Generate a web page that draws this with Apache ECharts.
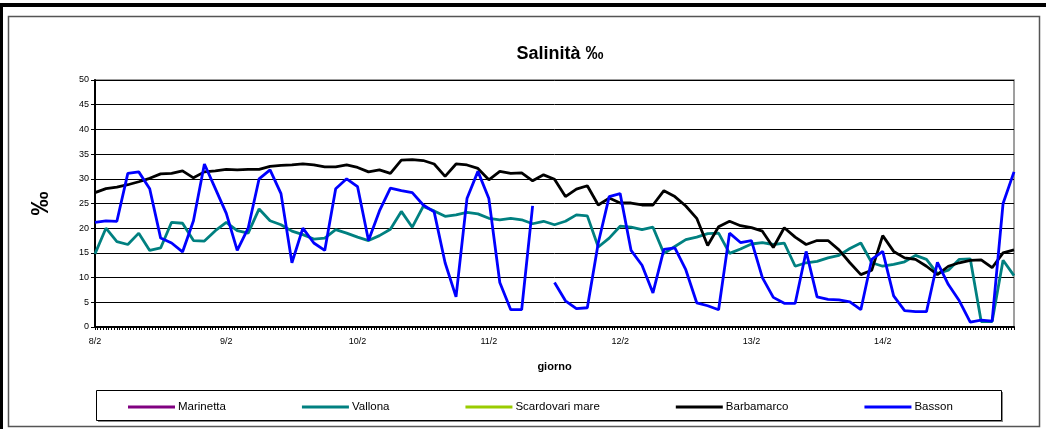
<!DOCTYPE html>
<html>
<head>
<meta charset="utf-8">
<script src="https://cdn.jsdelivr.net/npm/echarts@6/dist/echarts.min.js"></script>
<style>
html,body{margin:0;padding:0;background:#fff;}
#c{width:1046px;height:429px;}
</style>
</head>
<body>
<div id="c"></div>
<script>
// ---- data (2-hour steps from 8/2 00:00 to 15/2 00:00) ----
const days = ['8/2','9/2','10/2','11/2','12/2','13/2','14/2','15/2'];
const hoursOfDay = ['0','2','4','6','8','10','12','14','16','18','20','22'];
const seriesNames = ['Marinetta','Vallona','Scardovari mare','Barbamarco','Basson'];
const yTicks = [0,5,10,15,20,25,30,35,40,45,50];

const marinetta = [];
const scardovari = [];
const vallona = [14.8,20,17.3,16.7,19,15.5,16,21.2,21,17.5,
  17.4,19.5,21.2,19.5,19,23.9,21.5,20.7,19.4,18.7,
  17.8,18,19.7,19,18.2,17.5,18.5,19.8,23.4,20.2,
  24.4,23.5,22.4,22.7,23.2,22.9,22,21.7,22,21.7,
  20.9,21.4,20.7,21.4,22.7,22.5,16.2,18,20.4,20.2,
  19.7,20.2,14.9,16.3,17.7,18.2,18.9,19,14.9,15.8,
  16.8,17.1,16.7,17,12.3,13,13.3,14,14.5,15.9,
  17,13,12.3,12.7,13.2,14.5,13.7,10.8,11.5,13.7,
  13.8,1.1,1.1,13.5,10.4];
const barbamarco = [27.2,28,28.3,28.8,29.4,30.1,31,31.1,31.6,30.2,
  31.4,31.6,31.9,31.8,31.9,31.9,32.5,32.7,32.8,33,
  32.8,32.4,32.4,32.8,32.3,31.4,31.8,31.1,33.8,33.9,
  33.7,33,30.5,33,32.8,32.1,29.8,31.5,31.1,31.2,
  29.6,30.8,29.9,26.4,27.9,28.6,24.7,26.1,25.1,25.1,
  24.7,24.7,27.6,26.4,24.5,22,16.5,20.3,21.4,20.5,
  20.1,19.4,16.1,20.1,18.2,16.7,17.5,17.5,15.6,13,
  10.6,11.5,18.5,15.3,14,13.7,12.3,10.6,12.3,13,
  13.5,13.6,12,15,15.6];
const basson = [21.2,21.5,21.4,31.1,31.4,28,18,17,15.2,21.5,
  33,28,23,15.5,20,30,31.8,27,13,20,
  17,15.5,28,30,28.4,17.5,23.5,28.1,27.6,27.2,
  24.7,23.3,13,6.1,26,31.5,26,9,3.5,3.5,
  24.5,null,9,5.3,3.7,3.9,17,26.4,27,15.5,
  12.5,6.9,15.7,16,11.6,4.9,4.3,3.5,19,17.1,
  17.5,10,6,4.8,4.8,15.3,6.1,5.6,5.5,5.1,
  3.5,13.7,15.3,6.3,3.3,3.1,3.1,13.1,8.6,5.3,
  1,1.4,1.2,25,31.4];

const categories = [];
for (let d = 0; d < days.length - 1; d++) {
  for (const h of hoursOfDay) categories.push(days[d] + ' ' + h + ':00');
}
categories.push(days[days.length - 1] + ' 0:00');

const colors = ['#800080','#008080','#99CC00','#000000','#0000FF'];
const dataByName = [marinetta, vallona, scardovari, barbamarco, basson];

const FONT = 'Liberation Sans, Arial, sans-serif';
const chart = echarts.init(document.getElementById('c'), null, {renderer: 'canvas'});

const option = {
  animation: false,
  backgroundColor: '#fff',
  title: {
    text: 'Salinità ‰',
    left: 555, textAlign: 'center', top: 40,
    textStyle: {fontFamily: FONT, fontSize: 18, fontWeight: 'bold', color: '#000'}
  },
  legend: {
    data: seriesNames,
    left: 123, top: 396,
    icon: 'rect', itemWidth: 47, itemHeight: 3, itemGap: 76,
    textStyle: {fontFamily: FONT, fontSize: 11.5, color: '#000', padding: [0,0,0,-2]}
  },
  graphic: [
    {type: 'rect', shape: {x: 0, y: 3, width: 1046, height: 4}, style: {fill: '#000'}, silent: true},
    {type: 'rect', shape: {x: 0, y: 3, width: 3, height: 426}, style: {fill: '#000'}, silent: true},
    {type: 'rect', shape: {x: 8.5, y: 16.5, width: 1031, height: 410}, style: {fill: 'none', stroke: '#555', lineWidth: 1.5}, silent: true},
    {type: 'rect', shape: {x: 98, y: 392, width: 905, height: 30}, style: {fill: '#888'}, silent: true, z: 0},
    {type: 'rect', shape: {x: 96.5, y: 390.5, width: 905, height: 30}, style: {fill: '#fff', stroke: '#000', lineWidth: 1}, silent: true, z: 1}
  ],
  grid: {left: 95, right: 32, top: 80, bottom: 102, show: true, borderColor: '#808080', borderWidth: 1.5},
  xAxis: [{
    type: 'category', data: categories, boundaryGap: false,
    name: 'giorno', nameLocation: 'middle', nameGap: 34,
    nameTextStyle: {fontFamily: FONT, fontSize: 11, fontWeight: 'bold', color: '#000'},
    axisLine: {show: true, lineStyle: {color: '#000', width: 2}},
    axisTick: {show: false},
    axisLabel: {
      interval: function (idx) { return idx % 12 === 0 && idx < categories.length - 1; },
      formatter: function (v) { return v.split(' ')[0]; },
      fontFamily: FONT, fontSize: 9, color: '#000', margin: 10
    },
    splitLine: {show: false}
  }, {
    type: 'value', min: 0, max: categories.length - 1, interval: 0.25,
    position: 'bottom',
    axisLine: {show: false},
    axisTick: {show: true, length: 3, lineStyle: {color: '#000', width: 1}},
    axisLabel: {show: false},
    splitLine: {show: false}
  }],
  yAxis: {
    type: 'value', min: yTicks[0], max: yTicks[yTicks.length - 1], interval: 5,
    name: '‰', nameLocation: 'middle', nameGap: 42, nameRotate: 90,
    nameTextStyle: {fontFamily: FONT, fontSize: 24, fontWeight: 'bold', color: '#000'},
    axisLine: {show: true, lineStyle: {color: '#000', width: 2}},
    axisTick: {show: true, length: 4, lineStyle: {color: '#000'}},
    axisLabel: {fontFamily: FONT, fontSize: 9, color: '#000', margin: 6},
    splitLine: {show: true, lineStyle: {color: '#000', width: 1}}
  },
  series: seriesNames.map(function (n, k) {
    return {
      name: n, type: 'line', xAxisIndex: 0, data: dataByName[k],
      showSymbol: false, connectNulls: false,
      color: colors[k],
      lineStyle: {color: colors[k], width: 2.8},
      z: 3 + k
    };
  })
};
chart.setOption(option);
</script>
</body>
</html>
